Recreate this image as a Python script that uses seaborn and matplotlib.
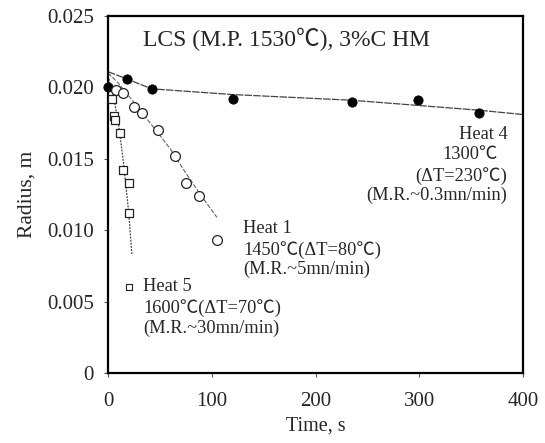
import numpy as np
import pandas as pd
import matplotlib
matplotlib.use("Agg")
import matplotlib.pyplot as plt
import seaborn as sns

# Measured points (time in s, radius in m)
heat4_t = [0, 18, 42, 120, 235, 299, 358]
heat4_r = [0.0200, 0.0206, 0.0199, 0.0192, 0.0190, 0.0191, 0.0182]
heat1_t = [8, 14, 25, 33, 48, 65, 75, 88, 105]
heat1_r = [0.0198, 0.0196, 0.0186, 0.0182, 0.0170, 0.0152, 0.0133, 0.0124, 0.0093]
heat5_t = [4, 6, 7, 12, 14, 20, 20]
heat5_r = [0.0192, 0.0180, 0.0177, 0.0168, 0.0142, 0.0133, 0.0112]

# Fitted curves
fit4_t = [0, 18, 42, 120, 235, 358, 400]
fit4_r = [0.0211, 0.0206, 0.0199, 0.0195, 0.0191, 0.0184, 0.0181]
fit1_t = [0, 10, 20, 30, 45, 60, 75, 90, 105]
fit1_r = [0.0210, 0.0203, 0.0194, 0.0185, 0.0171, 0.0157, 0.0140, 0.0124, 0.0109]
fit5_t = [0, 5, 10, 15, 20, 23]
fit5_r = [0.0208, 0.0195, 0.0175, 0.0147, 0.0112, 0.0083]

# Marker shown beside the "Heat 5" label
key5_t = [20]
key5_r = [0.0060]

x_ticks = [0, 100, 200, 300, 400]
y_ticks = [0, 0.005, 0.010, 0.015, 0.020, 0.025]
y_tick_labels = ["0", "0.005", "0.010", "0.015", "0.020", "0.025"]

sns.set_style("ticks")
fonts = ["Liberation Serif", "Noto Sans CJK JP", "DejaVu Sans"]
plt.rcParams["font.family"] = fonts

fig, ax = plt.subplots(figsize=(5.45, 4.43), dpi=100)
fig.subplots_adjust(left=108 / 545, right=523 / 545, top=1 - 16 / 443, bottom=1 - 373 / 443)

# fit lines
sns.lineplot(x=fit4_t, y=fit4_r, ax=ax, sort=False, color="#444444", lw=0.9, ls=(0, (6, 1)))
sns.lineplot(x=fit1_t, y=fit1_r, ax=ax, sort=False, color="#666666", lw=0.8, ls=(0, (4, 1.5)))
sns.lineplot(x=fit5_t, y=fit5_r, ax=ax, sort=False, color="#444444", lw=0.9, ls=(0, (1.5, 1)))

# data points
sns.scatterplot(x=heat4_t, y=heat4_r, ax=ax, marker="o", s=45, color="black",
                edgecolor="black", zorder=5, clip_on=False)
sns.scatterplot(x=heat1_t, y=heat1_r, ax=ax, marker="o", s=50, facecolor="white",
                edgecolor="#222222", linewidth=0.9, zorder=5)
sns.scatterplot(x=heat5_t, y=heat5_r, ax=ax, marker="s", s=36, facecolor="white",
                edgecolor="#222222", linewidth=0.9, zorder=5)
sns.scatterplot(x=key5_t, y=key5_r, ax=ax, marker="s", s=16, facecolor="white",
                edgecolor="#222222", linewidth=0.8, zorder=5)

ax.set_xlim(0, 400)
ax.set_ylim(0, 0.025)
ax.set_xticks(x_ticks)
ax.set_xticklabels([str(v) for v in x_ticks])
ax.set_yticks(y_ticks)
ax.set_yticklabels(y_tick_labels)
ax.tick_params(axis="both", labelsize=15, length=3, width=0.8, color="#555555")
ax.tick_params(axis="x", pad=11)
ax.tick_params(axis="y", pad=7)
for side in ["top", "right", "left", "bottom"]:
    ax.spines[side].set_visible(True)
    ax.spines[side].set_color("black")
    ax.spines[side].set_linewidth(1.6)

ax.set_xlabel("Time, s", fontsize=14.5, labelpad=4)
ax.set_ylabel("Radius, m", fontsize=15.5, labelpad=8)

ax.text(0.085, 0.935, "LCS (M.P. 1530℃), 3%C HM", transform=ax.transAxes,
        fontsize=17, va="center", ha="left", family=fonts)

tsize = 13.2
# Heat 4
ax.text(0.962, 0.667, "Heat 4", transform=ax.transAxes, fontsize=tsize, ha="right", va="center")
ax.text(0.938, 0.611, "1300℃", transform=ax.transAxes, fontsize=tsize, ha="right", va="center")
ax.text(0.962, 0.552, "(ΔT=230℃)", transform=ax.transAxes, fontsize=tsize, ha="right", va="center")
ax.text(0.962, 0.499, "(M.R.~0.3mn/min)", transform=ax.transAxes, fontsize=tsize, ha="right", va="center")
# Heat 1
ax.text(0.325, 0.406, "Heat 1", transform=ax.transAxes, fontsize=tsize, ha="left", va="center")
ax.text(0.325, 0.345, "1450℃(ΔT=80℃)", transform=ax.transAxes, fontsize=tsize, ha="left", va="center")
ax.text(0.325, 0.289, "(M.R.~5mn/min)", transform=ax.transAxes, fontsize=tsize, ha="left", va="center")
# Heat 5
ax.text(0.084, 0.241, "Heat 5", transform=ax.transAxes, fontsize=tsize, ha="left", va="center")
ax.text(0.084, 0.182, "1600℃(ΔT=70℃)", transform=ax.transAxes, fontsize=tsize, ha="left", va="center")
ax.text(0.084, 0.126, "(M.R.~30mn/min)", transform=ax.transAxes, fontsize=tsize, ha="left", va="center")

fig.savefig("out.png", dpi=100)
